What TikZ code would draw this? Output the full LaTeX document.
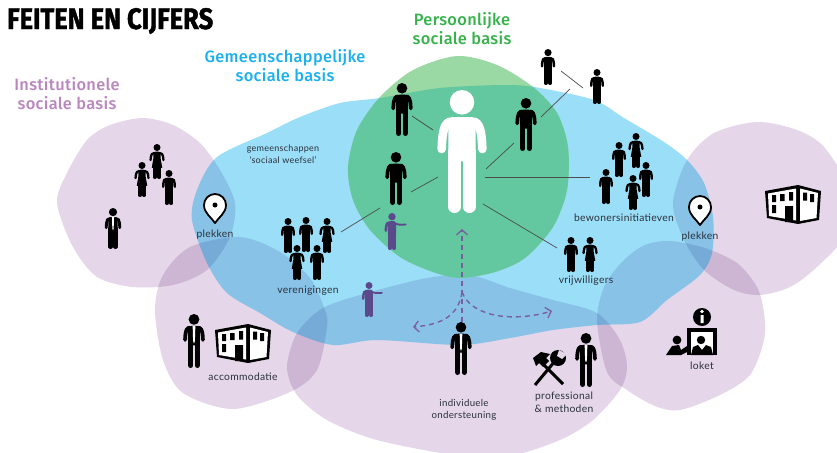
\documentclass[tikz,border=0pt]{standalone}
\usepackage{fontspec}
\usepackage{graphicx}
\setmainfont{Lato}[LetterSpace=3]
\newfontfamily\headfont{Fira Sans Medium}[LetterSpace=2]
\newfontfamily\titlefont{Fira Sans}[BoldFeatures={FakeBold=1.5}]
\usetikzlibrary{arrows.meta}
\definecolor{pblob}{HTML}{E5D7E9}
\definecolor{pinblue}{HTML}{E0E0EE}
\definecolor{bblob}{HTML}{9BDEF8}
\definecolor{gblob}{HTML}{9AD8A4}
\definecolor{gdeep}{HTML}{63C7A0}
\definecolor{pfig}{HTML}{5A4A8C}
\definecolor{dash}{HTML}{7A5F9E}
\definecolor{labelc}{HTML}{2B313C}
\definecolor{HTMLgreen}{HTML}{35B34A}
\definecolor{HTMLblue}{HTML}{1CB0EE}
\definecolor{HTMLpurple}{HTML}{B986BE}
\tikzset{
  blobfill/.style={fill=#1,blend mode=multiply},
  lab/.style={text=labelc,font=\fontsize{10.3}{12.6}\selectfont,align=center,inner sep=0pt},
  headlab/.style={font=\headfont\fontsize{16.4}{19}\selectfont,align=center,inner sep=0pt},
  linkline/.style={draw=black!70,line width=0.7pt},
  dasharrow/.style={draw=dash,line width=1.4pt,dash pattern=on 5pt off 4pt,-{Straight Barb[length=5pt,width=11pt,line width=1.3pt]}},
}
\newcommand\figscope[4]{\begin{scope}[shift={(#1,#2)},scale=#3/100,color=#4]\pgfmathsetmacro\uu{#3/100}}
\newcommand\fighead{\fill (0,10) circle[radius=10];}
\newcommand\figarmL{\draw[line width=\uu*7pt,line cap=round] (-7,25.5) .. controls (-12,25.5) and (-16,27) .. (-16.5,48);}
\newcommand\figarmR{\draw[line width=\uu*7pt,line cap=round] (7,25.5) .. controls (12,25.5) and (16,27) .. (16.5,48);}
\newcommand\figtorso{\fill (-11,30) .. controls (-11,24) and (-8,22) .. (-5,22) -- (5,22) .. controls (8,22) and (11,24) .. (11,30) -- (11,58) -- (-11,58) -- cycle;}
\newcommand\figlegs{\draw[line width=\uu*10pt,line cap=round] (-6,50) -- (-6,95) (6,50) -- (6,95);}
\newcommand\manfig[4]{\figscope{#1}{#2}{#3}{#4}\fighead\figtorso\figarmL\figarmR\figlegs\end{scope}}
\newcommand\suitfig[3]{\figscope{#1}{#2}{#3}{black}\fighead\figtorso\figarmL\figarmR\figlegs
  \fill[white] (-2.5,22.5) -- (2.5,22.5) -- (1.6,50) -- (0,55) -- (-1.6,50) -- cycle;\end{scope}}
\newcommand\womanfig[3]{\figscope{#1}{#2}{#3}{black}\fighead
  \fill (-10,30) .. controls (-10,24) and (-7,22) .. (-4,22) -- (4,22) .. controls (7,22) and (10,24) .. (10,30) -- (10.5,42) -- (15,68) -- (-15,68) -- (-10.5,42) -- cycle;
  \draw[line width=\uu*6.5pt,line cap=round] (-7,25.5) .. controls (-12,25.5) and (-18,27) .. (-18.5,46) (7,25.5) .. controls (12,25.5) and (18,27) .. (18.5,46);
  \draw[line width=\uu*10pt,line cap=round] (-6,60) -- (-6,95) (6,60) -- (6,95);\end{scope}}
\newcommand\pointfig[3]{\figscope{#1}{#2}{#3}{pfig}\fighead\figtorso\figarmL\figlegs
  \draw[line width=\uu*5pt,line cap=round] (6,27) .. controls (12,31) and (24,33) .. (37,31);\end{scope}}
\newcommand\pinmark[2]{\begin{scope}[shift={(#1,#2)}]
  \filldraw[fill=white,draw=black,line width=1.8pt,line join=round] (0,18) .. controls (-4,12) and (-11,8) .. (-11,0) arc[start angle=180,end angle=360,radius=11] .. controls (11,8) and (4,12) .. (0,18) -- cycle;
  \fill[black] (0,0) circle[radius=2.5];\end{scope}}
\newcommand\buildingmark[2]{\begin{scope}[shift={(#1,#2)}]
  \fill[black,line join=round] (0,6) -- (33,0) -- (56,6) -- (54,35) -- (33,39) -- (2,33) -- cycle;
  \fill[white] (3,8.5) -- (31,3.5) -- (31,35.5) -- (4,31) -- cycle (35,3.5) -- (53,8) -- (51.5,33) -- (35,36) -- cycle;
  \fill[black] (7,10) rectangle (11,17) (15,9) rectangle (19.5,16) (24,7) rectangle (28,15.5) (7,20) rectangle (11,28) (20,21) rectangle (28,37) (38,7.5) rectangle (42,15.5) (45,9) rectangle (49,17);
  \end{scope}}
\newcommand\blueblob{plot[smooth cycle] coordinates {(192,220)(197,190)(217,157)(267,133)(300,117)(340,103)(380,98)(440,88)(507,85)(540,88)(594,100)(624,118)(664,142)(687,160)(704,183)(713,217)(712,253)(700,275)(667,300)(640,322)(597,325)(553,330)(510,338)(460,345)(377,340)(333,345)(293,332)(260,313)(227,293)(207,263)}}
\newcommand\greenblob{plot[smooth cycle] coordinates {(348,167)(357,130)(380,97)(413,70)(457,56)(497,65)(533,87)(557,113)(568,147)(567,190)(553,227)(525,258)(495,272)(460,278)(433,272)(400,257)(370,230)(353,200)}}
\newcommand\purpleblobs[1]{%
\fill[blobfill=#1] plot[smooth cycle] coordinates {(57,203)(67,173)(87,140)(110,125)(143,118)(173,125)(200,143)(220,170)(235,203)(230,237)(207,270)(173,285)(133,287)(97,277)(73,247)};
\fill[blobfill=#1] plot[smooth cycle] coordinates {(155,310)(163,275)(190,247)(240,237)(280,252)(310,278)(325,310)(327,327)(317,370)(290,392)(233,409)(183,393)(163,360)};
\fill[blobfill=#1] plot[smooth cycle] coordinates {(287,367)(297,333)(323,308)(367,293)(427,278)(470,275)(510,288)(553,300)(597,313)(620,340)(627,367)(620,390)(593,420)(560,440)(510,456)(460,456)(377,440)(327,420)(297,395)};
\fill[blobfill=#1] plot[smooth cycle] coordinates {(597,320)(605,285)(624,260)(645,245)(670,241)(705,248)(737,263)(757,287)(764,313)(764,340)(750,375)(720,395)(680,410)(655,406)(627,390)(607,372)};
\fill[blobfill=#1] plot[smooth cycle] coordinates {(673,203)(687,160)(714,133)(757,122)(797,130)(824,147)(850,190)(850,230)(817,267)(790,287)(760,295)(734,290)(704,270)(684,240)};
}
\begin{document}
\begin{tikzpicture}[x=1pt,y=-1pt]
\useasboundingbox (0,0) rectangle (837,452);
\fill[white] (0,0) rectangle (837,452);
\begin{scope}
\clip (0,0) rectangle (837,452);
\purpleblobs{pblob}
\fill[bblob] \blueblob;
\begin{scope}
\clip \blueblob;
\purpleblobs{pinblue}
\end{scope}
\fill[gblob] \greenblob;
\begin{scope}
\clip \greenblob;
\fill[gdeep] \blueblob;
\end{scope}
\end{scope}
% titles
\node[inner sep=0pt,anchor=west] (title) at (7,21) {\resizebox{206pt}{21pt}{\titlefont\bfseries FEITEN EN CIJFERS}};
\node[headlab,text=HTMLgreen] (tg) at (462,29) {Persoonlijke\\sociale basis};
\node[headlab,text=HTMLblue] (tb) at (285,65.5) {Gemeenschappelijke\\sociale basis};
\node[headlab,text=HTMLpurple] (tp) at (67,93.5) {Institutionele\\sociale basis};
% lines
\coordinate (a1) at (412,116); \coordinate (a2) at (433,130);
\coordinate (b1) at (541,117); \coordinate (b2) at (570,89);
\coordinate (c1) at (561,71); \coordinate (c2) at (583,88);
\coordinate (d1) at (514,143); \coordinate (d2) at (486,169);
\coordinate (e1) at (485,177); \coordinate (e2) at (590,177);
\coordinate (f1) at (438,177); \coordinate (f2) at (411,192);
\coordinate (g1) at (380,208); \coordinate (g2) at (341,232);
\coordinate (h1) at (483,204); \coordinate (h2) at (557,248);
\foreach \s/\t in {a1/a2,b1/b2,c1/c2,d1/d2,e1/e2,f1/f2,g1/g2,h1/h2} \draw[linkline] (\s) -- (\t);
% dashed arrows
\coordinate (o1) at (462,322); \coordinate (o2) at (462,229);
\coordinate (o3) at (462,292); \coordinate (o4) at (413,327);
\coordinate (o5) at (552,311);
\draw[dasharrow] (o1) -- (o2);
\draw[dasharrow] (o3) .. controls (458,320) and (435,325) .. (o4);
\draw[dasharrow] (o3) .. controls (472,318) and (515,322) .. (o5);
% figures
\manfig{462}{90}{123}{white}
\manfig{402}{83}{53}{black}
\manfig{526}{98}{53}{black}
\manfig{396}{152}{53}{black}
\pointfig{392}{213}{37}
\pointfig{369}{282}{35}
\manfig{548}{49}{36}{black}
\manfig{597}{69}{35}{black}
\manfig{619}{142}{35}{black}
\womanfig{636}{133}{35}
\manfig{606}{169}{35}{black}
\manfig{646}{162}{35}{black}
\womanfig{633}{175}{35}
\manfig{571}{237}{35}{black}
\womanfig{590}{237}{35}
\manfig{288}{218}{35}{black}
\manfig{306}{217}{35}{black}
\womanfig{327}{218}{35}
\womanfig{297}{245}{35}
\manfig{317}{245}{35}{black}
\womanfig{157}{144}{35}
\womanfig{142}{162}{35}
\manfig{169}{170}{35}{black}
\suitfig{113}{208}{41}
\suitfig{194}{314}{54}
\suitfig{461}{322}{53}
\suitfig{586}{333}{54}
% pins and buildings
\pinmark{215}{205}
\pinmark{700}{207}
\buildingmark{215}{324}
\buildingmark{765}{185}
% tools
\begin{scope}
\draw[black,line width=3pt] (541,362) -- (563,384);
\fill[black] (533,358) -- (541,352) -- (550,354) -- (546,358) -- (549,361) -- (543,367) -- (539,363) -- (536,366) -- cycle;
\draw[black,line width=3pt] (535,385) -- (555,361);
\fill[black] (558,358) circle[radius=8];
\fill[pblob] (559,350) -- (567,354) -- (562,359) -- (557,356) -- cycle;
\end{scope}
% loket
\fill[black] (702,317) circle[radius=9];
\fill[white] (700.5,315) rectangle (703.5,323) (702,311.5) circle[radius=1.8];
\fill[black] (687,328) rectangle (717,355);
\fill[white] (691,332) rectangle (713,355);
\fill[black] (701,340) circle[radius=4.2];
\fill[black] (691,355) -- (693,347) -- (698,345) -- (702,350) -- (706,345) -- (711,347) -- (713,355) -- cycle;
\fill[black] (677,340) circle[radius=4.4];
\fill[black] (666,355) -- (672,346) -- (679,345) -- (681,350) -- (687,346) -- (687,352) -- (681,355) -- cycle;
% labels
\node[lab,font=\fontsize{9}{12}\selectfont] (l1) at (283,154) {gemeenschappen\\‘sociaal weefsel’};
\node[lab] (l2) at (215,235) {plekken};
\node[lab] (l3) at (700,237) {plekken};
\node[lab] (l4) at (308,291) {verenigingen};
\node[lab] (l5) at (624,218) {bewonersinitiatieven};
\node[lab] (l6) at (586,281) {vrijwilligers};
\node[lab] (l7) at (243,377) {accommodatie};
\node[lab,font=\fontsize{9.7}{12.6}\selectfont] (l8) at (464,410) {individuele\\ondersteuning};
\node[lab] (l9) at (564,402) {professional\\\& methoden};
\node[lab] (l10) at (702,366) {loket};
\end{tikzpicture}
\end{document}
